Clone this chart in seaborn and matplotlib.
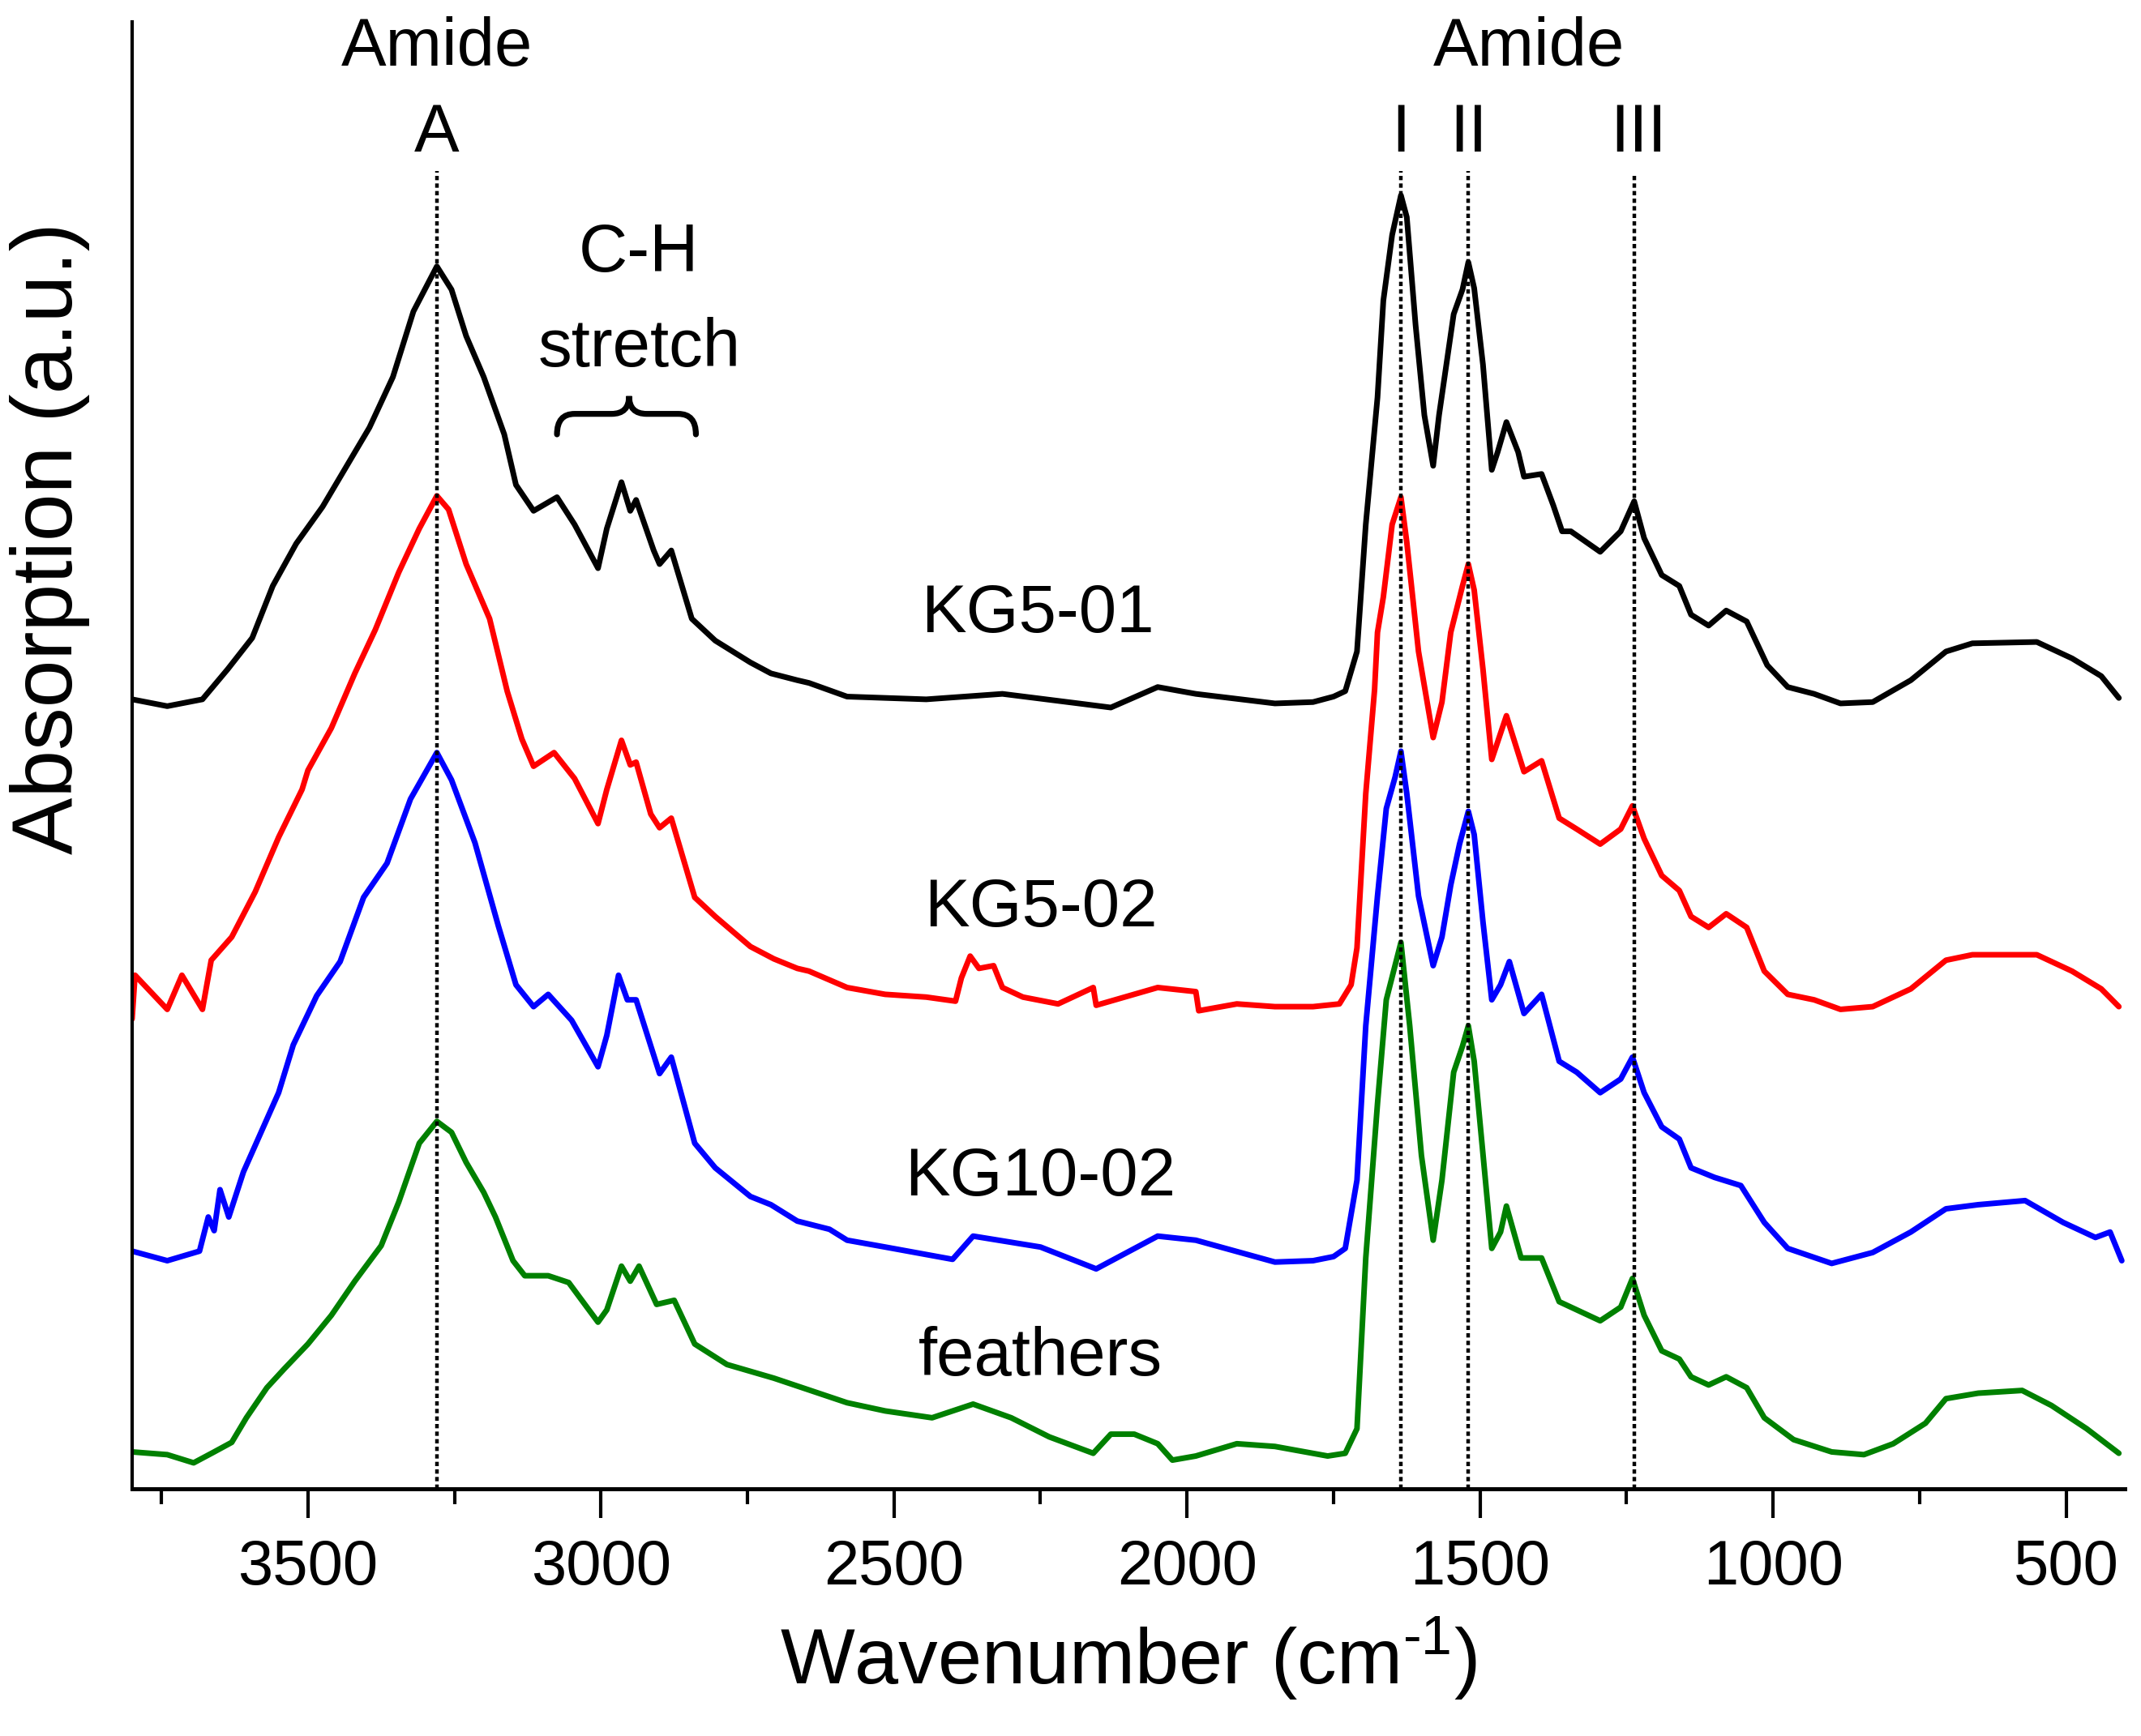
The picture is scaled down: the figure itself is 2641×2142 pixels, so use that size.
import numpy as np
import pandas as pd
import seaborn as sns
import matplotlib.pyplot as plt
from matplotlib.path import Path
from matplotlib.patches import PathPatch

# espectros FTIR (valores ya desplazados verticalmente)
wn_kg501 = [3800, 3740, 3680, 3637, 3595, 3560, 3520, 3475, 3435, 3395, 3355, 3320, 3280,
            3255, 3230, 3200, 3165, 3145, 3115, 3075, 3045, 3005, 2990, 2965, 2950, 2940,
            2910, 2900, 2880, 2845, 2805, 2745, 2710, 2665, 2645, 2580, 2445, 2315, 2185,
            2130, 2050, 1985, 1850, 1785, 1750, 1730, 1710, 1695, 1675, 1665, 1650, 1635,
            1625, 1610, 1595, 1580, 1570, 1545, 1530, 1520, 1510, 1495, 1480, 1470, 1455,
            1435, 1425, 1395, 1375, 1360, 1345, 1295, 1260, 1237, 1220, 1190, 1160, 1140,
            1110, 1080, 1045, 1010, 975, 930, 885, 830, 765, 705, 660, 550, 490, 440, 410]
abs_kg501 = [578, 573, 578, 600, 623, 661, 692, 719, 748, 777, 814, 862, 895,
             878, 844, 814, 772, 735, 716, 726, 706, 674, 703, 737, 716, 724,
             687, 677, 687, 637, 621, 605, 597, 592, 590, 580, 578, 582, 575,
             572, 587, 582, 575, 576, 580, 584, 613, 706, 799, 870, 918, 947,
             931, 852, 786, 749, 786, 860, 878, 898, 879, 823, 746, 759, 781,
             759, 741, 743, 720, 701, 701, 686, 701, 723, 696, 669, 661, 640,
             632, 643, 635, 603, 587, 582, 575, 576, 592, 613, 619, 620, 608, 595, 579]

wn_kg502 = [3800, 3795, 3740, 3715, 3680, 3665, 3630, 3590, 3550, 3510, 3500, 3460, 3420,
            3385, 3345, 3310, 3280, 3260, 3230, 3190, 3160, 3135, 3115, 3080, 3045, 3005,
            2990, 2965, 2950, 2940, 2915, 2900, 2880, 2840, 2805, 2745, 2705, 2665, 2645,
            2580, 2515, 2445, 2395, 2385, 2370, 2355, 2330, 2315, 2280, 2220, 2160, 2155,
            2050, 1985, 1980, 1915, 1850, 1785, 1740, 1720, 1710, 1695, 1680, 1675, 1665,
            1650, 1635, 1625, 1605, 1580, 1565, 1550, 1530, 1520, 1510, 1495, 1480, 1455,
            1425, 1395, 1365, 1335, 1295, 1260, 1240, 1220, 1190, 1160, 1140, 1110, 1080,
            1045, 1015, 975, 930, 885, 830, 765, 705, 660, 550, 490, 440, 410]
abs_kg502 = [344, 376, 351, 376, 351, 387, 404, 437, 477, 512, 526, 557, 597,
             629, 671, 703, 727, 717, 677, 637, 584, 549, 529, 539, 520, 487,
             512, 548, 530, 532, 494, 484, 491, 433, 419, 397, 388, 381, 379,
             367, 362, 360, 357, 374, 390, 381, 383, 367, 360, 355, 367, 354,
             367, 364, 350, 355, 353, 353, 355, 369, 396, 509, 585, 627, 653,
             706, 726, 693, 613, 550, 576, 627, 661, 677, 658, 600, 534, 566,
             525, 533, 491, 483, 472, 483, 500, 476, 449, 438, 419, 411, 421,
             411, 379, 362, 358, 351, 353, 366, 387, 391, 391, 379, 366, 353]

wn_kg1002 = [3800, 3740, 3685, 3670, 3660, 3650, 3635, 3610, 3580, 3550, 3525, 3485, 3445,
             3405, 3365, 3325, 3280, 3255, 3215, 3175, 3145, 3115, 3090, 3050, 3005, 2990,
             2970, 2955, 2940, 2900, 2880, 2840, 2805, 2745, 2710, 2665, 2610, 2580, 2515,
             2400, 2365, 2250, 2155, 2050, 1985, 1850, 1785, 1750, 1730, 1710, 1695, 1675,
             1660, 1645, 1635, 1625, 1605, 1580, 1565, 1550, 1535, 1520, 1510, 1495, 1480,
             1465, 1450, 1425, 1395, 1365, 1335, 1295, 1260, 1240, 1220, 1190, 1160, 1140,
             1100, 1055, 1015, 975, 900, 830, 765, 705, 650, 570, 505, 450, 425, 405]
abs_kg1002 = [174, 167, 174, 199, 189, 219, 199, 232, 261, 290, 325, 361, 386,
              433, 458, 505, 539, 519, 473, 412, 369, 353, 362, 343, 309, 332,
              376, 358, 358, 304, 316, 253, 235, 214, 208, 196, 190, 182, 177,
              168, 185, 177, 161, 185, 182, 166, 167, 170, 176, 226, 339, 434,
              498, 521, 540, 509, 434, 383, 404, 442, 472, 496, 479, 415, 358,
              369, 386, 348, 362, 313, 305, 290, 300, 316, 290, 265, 256, 235,
              228, 222, 195, 176, 165, 173, 188, 205, 208, 211, 195, 184, 188, 167]

wn_feathers = [3800, 3740, 3695, 3660, 3630, 3605, 3570, 3540, 3500, 3460, 3420, 3375, 3345,
               3310, 3280, 3255, 3230, 3200, 3180, 3150, 3130, 3090, 3055, 3005, 2990, 2965,
               2950, 2935, 2905, 2875, 2840, 2785, 2705, 2580, 2515, 2435, 2365, 2300, 2235,
               2160, 2130, 2090, 2050, 2025, 1985, 1915, 1850, 1760, 1730, 1710, 1695, 1675,
               1660, 1635, 1620, 1600, 1580, 1565, 1545, 1530, 1520, 1510, 1495, 1480, 1465,
               1455, 1430, 1395, 1365, 1335, 1295, 1260, 1240, 1220, 1190, 1160, 1140, 1110,
               1080, 1045, 1015, 965, 900, 845, 795, 740, 705, 650, 575, 525, 465, 410]
abs_feathers = [27, 25, 19, 27, 34, 52, 74, 88, 106, 127, 152, 178, 210,
                253, 269, 261, 239, 217, 199, 167, 156, 156, 151, 122, 131, 163,
                152, 163, 135, 138, 106, 91, 81, 63, 57, 52, 62, 52, 38,
                26, 40, 40, 33, 21, 24, 33, 31, 24, 26, 44, 169, 282,
                358, 400, 339, 244, 182, 226, 305, 324, 339, 313, 245, 176, 188,
                207, 169, 169, 137, 131, 123, 133, 154, 127, 101, 95, 82, 76,
                82, 74, 52, 36, 27, 25, 33, 48, 66, 70, 72, 61, 44, 26]

muestras = ['KG5-01', 'KG5-02', 'KG10-02', 'feathers']
colores = ['#000000', '#ff0000', '#0000ff', '#008000']
# posiciones de las etiquetas de cada espectro
etiqueta_x = [2255, 2250, 2250, 2250]
etiqueta_y = [640, 425, 228, 96]

# bandas marcadas con lineas punteadas
bandas_wn = [3280, 1635, 1520, 1237]
bandas_top = [965, 965, 965, 962]
bandas_txt = ['A', 'I', 'II', 'III']
bandas_txt_x = [3280, 1635, 1520, 1230]

frames = []
for nombre, w, a in zip(muestras,
                        [wn_kg501, wn_kg502, wn_kg1002, wn_feathers],
                        [abs_kg501, abs_kg502, abs_kg1002, abs_feathers]):
    frames.append(pd.DataFrame({'wn': w, 'abs': a, 'muestra': nombre}))
df = pd.concat(frames, ignore_index=True)

sns.set_style('ticks')
plt.rcParams['font.family'] = ['Liberation Sans', 'DejaVu Sans']
plt.rcParams['mathtext.fontset'] = 'custom'
plt.rcParams['mathtext.rm'] = 'Liberation Sans'
plt.rcParams['mathtext.it'] = 'Liberation Sans'
plt.rcParams['text.color'] = 'black'
plt.rcParams['axes.labelcolor'] = 'black'
plt.rcParams['xtick.color'] = 'black'

fig = plt.figure(figsize=(13.205, 10.71), dpi=200)
ax = fig.add_axes([0.0617, 0.1424, 0.9307, 0.845])

sns.lineplot(data=df, x='wn', y='abs', hue='muestra', palette=colores,
             hue_order=muestras, estimator=None, sort=False, lw=2.5,
             legend=False, ax=ax)

ax.vlines(bandas_wn, 0, bandas_top, colors='black', lw=1.6,
          linestyles=(0, (1.2, 0.9)), zorder=5)

ax.set_xlim(3800, 400)
ax.set_ylim(0, 1074)

ax.set_xticks([3500, 3000, 2500, 2000, 1500, 1000, 500])
ax.set_xticks(np.arange(3750, 400, -500), minor=True)
ax.set_yticks([])
ax.tick_params(axis='x', which='major', direction='out', length=13, width=1.5,
               labelsize=28, pad=9, color='black', labelcolor='black')
ax.tick_params(axis='x', which='minor', direction='out', length=6.8, width=1.5,
               color='black')
sns.despine(ax=ax)
ax.spines['left'].set_linewidth(1.5)
ax.spines['bottom'].set_linewidth(1.8)
ax.spines['left'].set_color('black')
ax.spines['bottom'].set_color('black')

ax.set_xlabel('Wavenumber (cm$^{\\mathrm{\u2010}1}$)', fontsize=35, labelpad=8)
ax.set_ylabel('Absorption (a.u.)', fontsize=38)
ax.yaxis.set_label_coords(-0.021, 0.648)

# anotaciones de bandas
ax.text(3280, 1055, 'Amide', fontsize=30, ha='center', va='center')
ax.text(1416, 1055, 'Amide', fontsize=30, ha='center', va='center')
for x, t in zip(bandas_txt_x, bandas_txt):
    ax.text(x, 992, t, fontsize=30, ha='center', va='center')
ax.text(2935, 904, 'C-H', fontsize=30, ha='center', va='center')
ax.text(2935, 835, 'stretch', fontsize=30, ha='center', va='center')

# llave bajo "stretch"
x1, x2, xm = 3075, 2838, 2952
yb, yh, yt = 772, 787, 800
verts = [(x1, yb), (x1, yh), (x1 - 30, yh),
         (xm + 30, yh),
         (xm, yh), (xm, yt),
         (xm, yh), (xm - 30, yh),
         (x2 + 30, yh),
         (x2, yh), (x2, yb)]
codes = [Path.MOVETO, Path.CURVE3, Path.CURVE3,
         Path.LINETO,
         Path.CURVE3, Path.CURVE3,
         Path.CURVE3, Path.CURVE3,
         Path.LINETO,
         Path.CURVE3, Path.CURVE3]
ax.add_patch(PathPatch(Path(verts, codes), fill=False, lw=2.6, color='black',
                       capstyle='round'))

for nombre, x, y in zip(muestras, etiqueta_x, etiqueta_y):
    ax.text(x, y, nombre, fontsize=30, ha='center', va='center')

fig.savefig('out.png', dpi=200)
